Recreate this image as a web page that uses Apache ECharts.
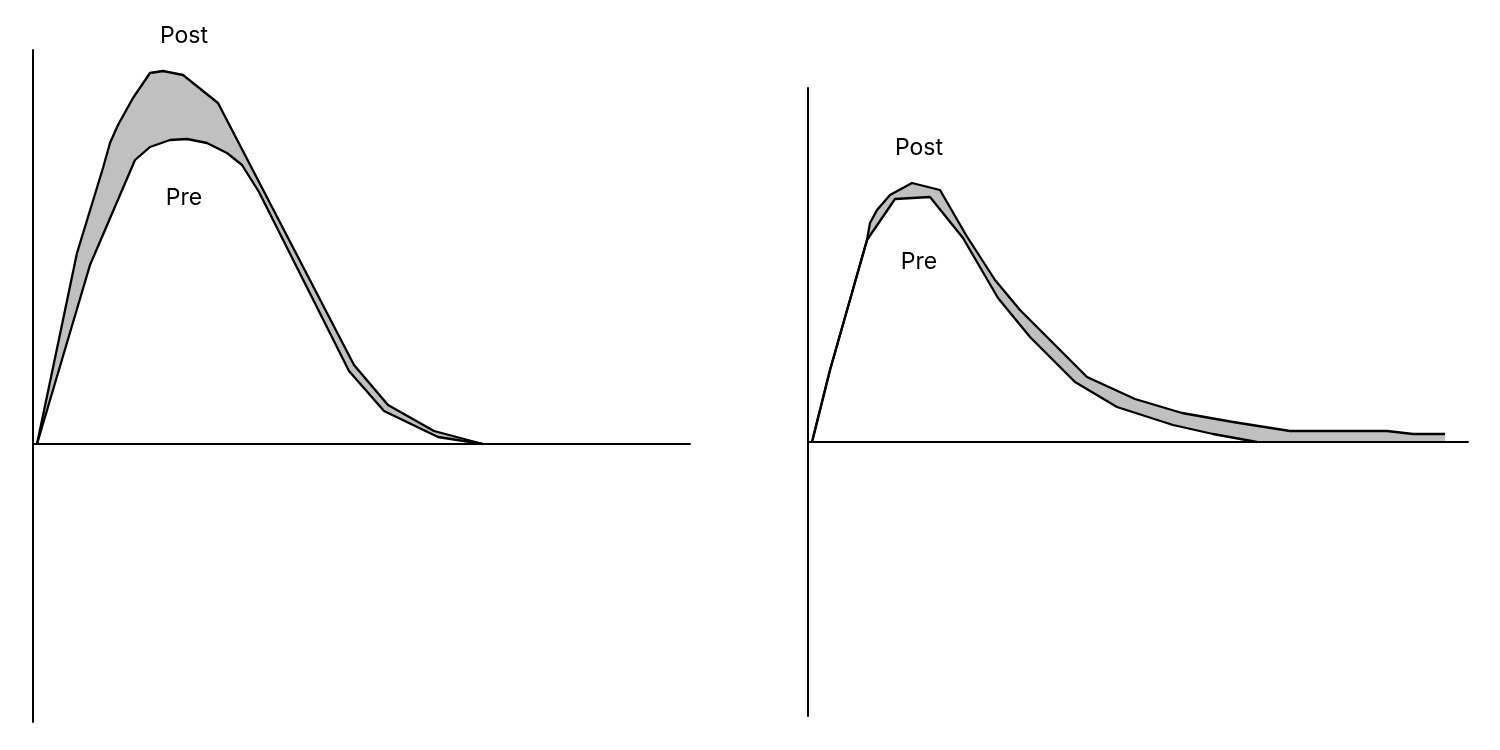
<!DOCTYPE html>
<html>
<head>
<meta charset="utf-8">
<script src="https://cdn.jsdelivr.net/npm/echarts@6/dist/echarts.min.js"></script>
<style>html,body{margin:0;padding:0;background:#fff}#c{width:1500px;height:750px}</style>
</head>
<body>
<div id="c"></div>
<script>
// Left panel curves [x, y]
var leftPost = [[4,0],[44,191],[70,276],[77,301],[85,319],[100,346],[117,371],[130,373],[150,369],[185,341],[321,79],[355,39],[401,13],[450,0]];
var leftPre  = [[4,0],[57,179],[102,284],[117,297],[137,304],[154,305],[174,301],[194,291],[209,279],[226,252],[316,73],[351,33],[405,7],[450,0]];
// Right panel curves [x, y]
var rightPost = [[4,0],[22,72],[59,202],[62,219],[69,232],[82,247],[104,259],[132,252],[158,207],[187,162],[212,132],[279,65],[327,43],[374,29],[425,20],[482,11],[579,11],[605,8],[637,8]];
var rightPre  = [[4,0],[22,72],[59,202],[87,243],[122,245],[155,204],[190,144],[222,105],[267,60],[309,35],[365,17],[405,8],[449,0]];
// Text labels: [text, panel, x, y]
var labels = [["Post",0,151,408],["Pre",0,151,246],["Post",1,111,294],["Pre",1,111,180]];
// Axis extents per panel
var xMax = [657, 660];
var yMin = [-278, -274];
var yMax = [394, 354];

var chart = echarts.init(document.getElementById('c'));
function axisX(i){return {type:'value',gridIndex:i,min:0,max:xMax[i],z:10,
  axisLine:{onZero:true,lineStyle:{color:'#000',width:2}},axisTick:{show:false},axisLabel:{show:false},splitLine:{show:false}};}
function axisY(i){return {type:'value',gridIndex:i,min:yMin[i],max:yMax[i],z:10,
  axisLine:{onZero:false,lineStyle:{color:'#000',width:2}},axisTick:{show:false},axisLabel:{show:false},splitLine:{show:false}};}
function area(data,i,color){return {type:'line',xAxisIndex:i,yAxisIndex:i,data:data,symbol:'none',z:1,
  lineStyle:{width:0},areaStyle:{color:color,opacity:1},animation:false,silent:true};}
function line(data,i){return {type:'line',xAxisIndex:i,yAxisIndex:i,data:data,symbol:'none',z:3,
  lineStyle:{color:'#000',width:2.3,join:'round'},animation:false,silent:true};}
chart.setOption({
  backgroundColor:'#fff',
  animation:false,
  grid:[{left:33,width:657,top:50,height:672},{left:808,width:660,top:88,height:628}],
  xAxis:[axisX(0),axisX(1)],
  yAxis:[axisY(0),axisY(1)],
  series:[
    area(leftPost,0,'#c0c0c0'),area(leftPre,0,'#ffffff'),
    area(rightPost,1,'#c0c0c0'),area(rightPre,1,'#ffffff'),
    line(leftPost,0),line(leftPre,0),line(rightPost,1),line(rightPre,1)
  ]
});
var g = labels.map(function(l){
  var p = chart.convertToPixel({gridIndex:l[1]},[l[2],l[3]]);
  return {type:'text',x:p[0],y:p[1],z:20,style:{text:l[0],fill:'#000',font:'23px Inter, "Noto Sans", sans-serif',align:'center',verticalAlign:'middle'}};
});
chart.setOption({graphic:g});
</script>
</body>
</html>
